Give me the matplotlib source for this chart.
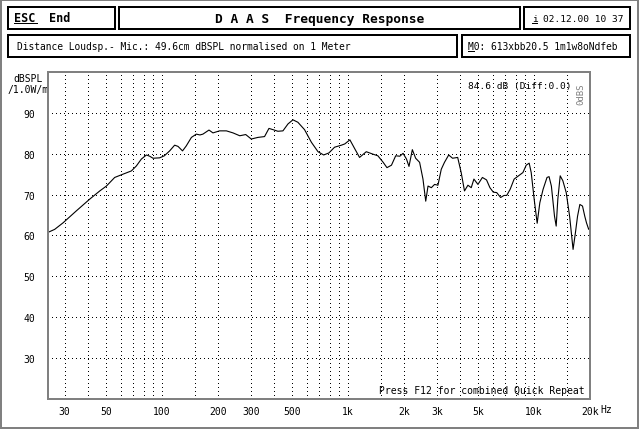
import matplotlib
matplotlib.use("Agg")
import matplotlib.pyplot as plt
from matplotlib.patches import Rectangle
from matplotlib.ticker import FixedLocator, NullFormatter

# ---------------- data ----------------
freq_hz = [24.5, 26.5, 29.4, 34.6, 40.9, 46.3, 50.3, 55.7, 61.7, 68.5, 72.8, 77.5,
           82.5, 85.9, 89.5, 97.2, 103, 110, 117, 122, 129, 135, 144, 153, 160, 166,
           179, 188, 204, 222, 241, 262, 282, 302, 328, 356, 376, 395, 420, 447, 476,
           506, 538, 584, 636, 690, 740, 790, 847, 922, 961, 1024, 1085, 1154, 1254,
           1362, 1448, 1546, 1620, 1713, 1805, 1900, 1978, 2063, 2128, 2218, 2311,
           2427, 2530, 2618, 2693, 2806, 2922, 3045, 3173, 3302, 3479, 3649, 3888,
           4060, 4230, 4413, 4598, 4753, 4996, 5280, 5557, 5795, 6043, 6301, 6617,
           6899, 7134, 7443, 7820, 8256, 8718, 9080, 9420, 9660, 10020, 10400, 10747,
           11190, 11747, 12050, 12400, 12890, 13160, 13430, 13830, 14290, 14900,
           15540, 16220, 16700, 17140, 17640, 18230, 18750, 19150, 19680, 20000]
spl_db = [60.8, 61.5, 63.1, 66.0, 68.9, 70.9, 72.1, 74.2, 75.0, 75.8, 77.0, 78.7,
          79.7, 79.4, 78.9, 79.0, 79.5, 80.7, 82.1, 81.8, 80.7, 81.9, 84.0, 84.8,
          84.6, 84.8, 85.8, 85.1, 85.6, 85.6, 85.1, 84.4, 84.7, 83.6, 84.0, 84.2,
          86.2, 85.9, 85.5, 85.6, 87.3, 88.3, 87.7, 85.9, 82.8, 80.5, 79.7, 80.2,
          81.6, 82.1, 82.4, 83.4, 81.3, 79.1, 80.5, 79.9, 79.5, 77.9, 76.6, 77.2,
          79.5, 79.4, 80.1, 78.7, 76.9, 81.0, 78.9, 77.9, 73.8, 68.4, 72.1, 71.7,
          72.5, 72.3, 76.2, 77.9, 79.7, 78.9, 79.1, 75.4, 70.9, 72.3, 71.7, 73.8,
          72.5, 74.2, 73.6, 71.7, 70.6, 70.5, 69.3, 69.8, 69.8, 71.3, 73.8, 74.6,
          75.4, 77.2, 77.7, 75.4, 68.9, 63.0, 68.0, 71.3, 74.2, 74.4, 72.1, 64.7,
          62.3, 68.9, 74.6, 73.4, 70.5, 64.7, 56.6, 60.7, 64.7, 67.6, 67.2, 64.7,
          63.1, 61.5, 62.0]

xtick_values = [30, 50, 100, 200, 300, 500, 1000, 2000, 3000, 5000, 10000, 20000]
xtick_labels = ["30", "50", "100", "200", "300", "500", "1k", "2k", "3k", "5k", "10k", "20k"]
xgrid_minor = [40, 60, 70, 80, 90, 150, 400, 600, 700, 800, 900, 1500, 4000, 6000,
               7000, 8000, 9000, 15000]
ytick_values = [30, 40, 50, 60, 70, 80, 90]

# ---------------- figure ----------------
W, H = 640, 431
fig = plt.figure(figsize=(W / 100, H / 100), dpi=100)
fig.patch.set_facecolor("white")
MONO = "DejaVu Sans Mono"
px = 0.72  # one pixel in points

bg = fig.add_axes([0, 0, 1, 1])
bg.set_xlim(0, W)
bg.set_ylim(H, 0)
bg.axis("off")

GRAY = "#808080"
# outer dithered frame
bg.add_patch(Rectangle((1, 1), 637, 428, fill=False, ec=GRAY, lw=2 * px))

def box(x0, y0, x1, y1):
    bg.add_patch(Rectangle((x0 + 1, y0 + 1), x1 - x0 - 2, y1 - y0 - 2,
                           fill=False, ec="black", lw=2 * px))

box(7, 7, 116, 31)
box(118, 7, 521, 31)
box(523, 7, 631, 31)
box(7, 35, 458, 59)
box(461, 35, 631, 59)

# header texts
bg.text(14, 19, "ESC", fontsize=8.5, family=MONO, weight="bold", va="center", ha="left")
bg.plot([14, 37], [23.5, 23.5], color="black", lw=1 * px)
bg.text(49, 19, "End", fontsize=8.5, family=MONO, weight="bold", va="center", ha="left")
bg.text(320, 19.5, "D A A S  Frequency Response", fontsize=9.3, family=MONO,
        weight="bold", va="center", ha="center")
bg.text(532, 19, "i", fontsize=6.8, family=MONO, va="center", ha="left")
bg.plot([532, 537], [24, 24], color="black", lw=1 * px)
bg.text(543, 19, "02.12.00 10 37", fontsize=6.8, family=MONO, va="center", ha="left")
bg.text(17, 47, "Distance Loudsp.- Mic.: 49.6cm dBSPL normalised on 1 Meter",
        fontsize=6.9, family=MONO, va="center", ha="left")
bg.text(468, 47, "M0: 613xbb20.5 1m1w8oNdfeb", fontsize=6.9, family=MONO,
        va="center", ha="left")
bg.plot([468, 474], [52, 52], color="black", lw=1 * px)

# axis unit labels
bg.text(28, 79, "dBSPL", fontsize=7, family=MONO, va="center", ha="center")
bg.text(28, 89.5, "/1.0W/m", fontsize=7, family=MONO, va="center", ha="center")
bg.text(600, 410, "Hz", fontsize=7, family=MONO, va="center", ha="left")

# ---------------- main plot ----------------
L, R, T, B = 48, 590, 73, 400
ax = fig.add_axes([L / W, (H - B) / H, (R - L) / W, (B - T) / H])
ax.set_xscale("log")
ax.set_xlim(24.4, 20000)
ax.set_ylim(20, 100)
ax.set_facecolor("white")

ax.xaxis.set_major_locator(FixedLocator(xtick_values))
ax.set_xticklabels(xtick_labels)
ax.xaxis.set_minor_locator(FixedLocator(xgrid_minor))
ax.xaxis.set_minor_formatter(NullFormatter())
ax.set_yticks(ytick_values)
ax.set_yticklabels([str(v) for v in ytick_values])
ax.tick_params(axis="both", which="both", length=0)
ax.tick_params(axis="x", pad=5, labelsize=7)
ax.tick_params(axis="y", pad=9.5, labelsize=7)
for lab in ax.get_xticklabels() + ax.get_yticklabels():
    lab.set_family(MONO)

gkw = dict(color="black", lw=1 * px, linestyle=(0, (1, 3)), antialiased=False)
ax.grid(True, which="major", axis="both", **gkw)
ax.grid(True, which="minor", axis="x", **gkw)
ax.set_axisbelow(True)

for s in ax.spines.values():
    s.set_color(GRAY)
    s.set_linewidth(2 * px)

ax.plot(freq_hz, spl_db, color="black", lw=0.8)

ax.text(0.965, 0.96, "84.6 dB (Diff:0.0)", transform=ax.transAxes, fontsize=6.8,
        family=MONO, ha="right", va="center")
ax.text(0.983, 0.936, "0dBS", transform=ax.transAxes, fontsize=6.5, family=MONO,
        ha="center", va="center", rotation=90, color=GRAY)
ax.text(0.99, 0.012, "Press F12 for combined Quick Repeat", transform=ax.transAxes,
        fontsize=7.0, family=MONO, ha="right", va="bottom")

fig.savefig("out.png", dpi=100, facecolor="white")
